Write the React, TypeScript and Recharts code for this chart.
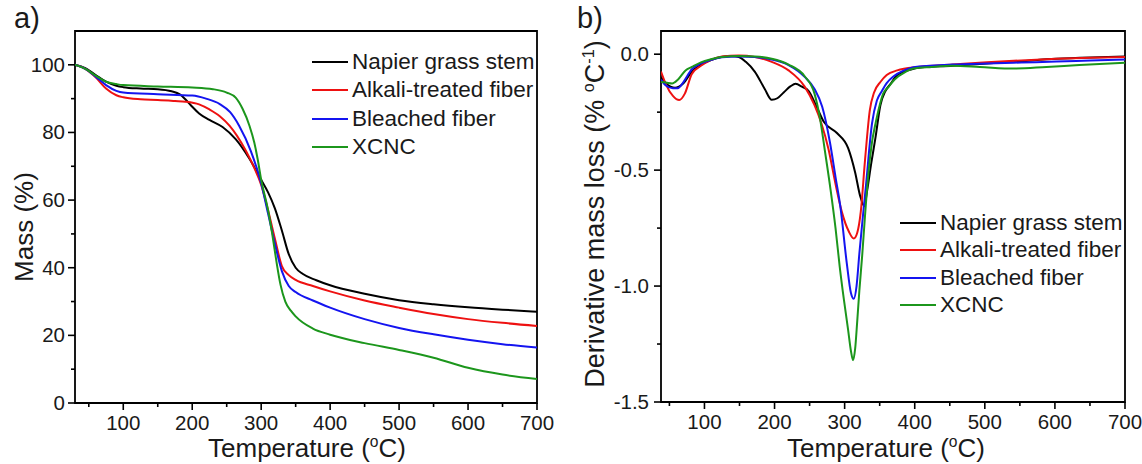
import { LineChart, Line, XAxis, YAxis, ReferenceArea } from "recharts";

const FONT = '"Liberation Sans", Arial, Helvetica, sans-serif';
const INK = "#1a1a1a";

// a) TGA: mass remaining (%) against temperature (°C)
const napierMass: [number, number][] = [
  [30, 100], [45, 99], [60, 97], [75, 95], [90, 93.8], [100, 93.4], [125, 93],
  [150, 92.8], [170, 92.2], [182, 91.3], [191, 89.6], [200, 87.6], [210, 85.6],
  [225, 83.7], [244, 81.6], [263, 78], [283, 72.2], [300, 66], [310, 62.3],
  [320, 57.5], [330, 51], [340, 44], [350, 40], [360, 38.2], [380, 36.3],
  [400, 34.8], [450, 32.3], [500, 30.4], [550, 29.2], [600, 28.3], [650, 27.6],
  [700, 27],
];
const alkaliMass: [number, number][] = [
  [30, 100], [45, 98.8], [60, 96.3], [75, 93], [90, 91], [100, 90.4], [125, 89.8],
  [150, 89.6], [175, 89.3], [190, 89.1], [210, 88.3], [225, 86.8], [240, 84.8],
  [254, 82], [265, 79], [278, 74.5], [290, 69.5], [300, 64.5], [310, 57],
  [320, 48.5], [330, 40.5], [340, 37.8], [350, 36.4], [375, 34.6], [400, 33],
  [450, 30.3], [500, 28.2], [550, 26.3], [600, 24.8], [650, 23.7], [700, 22.8],
];
const bleachedMass: [number, number][] = [
  [30, 100], [45, 98.8], [60, 96.5], [75, 94], [90, 92.3], [100, 91.8], [150, 91.3],
  [200, 90.9], [220, 90], [240, 88.4], [255, 86], [268, 82], [285, 74.5], [300, 65],
  [310, 56], [320, 47], [330, 39], [340, 34.6], [350, 32.8], [375, 30.3],
  [400, 28.2], [450, 24.8], [500, 22.2], [550, 20.3], [600, 18.7], [650, 17.4],
  [700, 16.4],
];
const xcncMass: [number, number][] = [
  [30, 100], [45, 98.8], [60, 96.8], [75, 95], [90, 94.3], [100, 94], [150, 93.6],
  [200, 93.3], [230, 92.8], [250, 91.8], [263, 90.3], [273, 87], [283, 82],
  [290, 77], [295, 72], [300, 66], [310, 57], [316, 50], [322, 42], [328, 35],
  [335, 30], [343, 27.3], [350, 25.6], [375, 22], [400, 20.2], [450, 17.7],
  [500, 15.7], [550, 13.4], [600, 10.4], [650, 8.4], [700, 7.1],
];

// b) DTG: derivative mass loss (% °C-1) against temperature (°C)
const napierDtg: [number, number][] = [
  [38, -0.1], [45, -0.125], [58, -0.145], [70, -0.125], [82, -0.075], [95, -0.045],
  [109, -0.025], [124, -0.012], [139, -0.008], [149, -0.012], [159, -0.033],
  [172, -0.076], [186, -0.15], [196, -0.197], [204, -0.19], [213, -0.165],
  [223, -0.138], [230, -0.128], [239, -0.14], [249, -0.16], [259, -0.22],
  [270, -0.29], [289, -0.34], [305, -0.405], [315, -0.51], [322, -0.61],
  [328, -0.655], [332, -0.59], [338, -0.47], [344, -0.36], [351, -0.22],
  [358, -0.16], [365, -0.13], [375, -0.09], [390, -0.07], [405, -0.058],
  [454, -0.05], [503, -0.04], [552, -0.03], [602, -0.02], [651, -0.014], [700, -0.01],
];
const alkaliDtg: [number, number][] = [
  [38, -0.075], [45, -0.13], [55, -0.18], [64, -0.198], [72, -0.17], [82, -0.085],
  [95, -0.05], [109, -0.025], [125, -0.01], [149, -0.006], [172, -0.012],
  [196, -0.033], [220, -0.07], [243, -0.14], [257, -0.22], [267, -0.3],
  [277, -0.41], [287, -0.56], [296, -0.68], [306, -0.765], [313, -0.795],
  [318, -0.77], [323, -0.68], [329, -0.46], [336, -0.24], [342, -0.165],
  [351, -0.12], [360, -0.09], [375, -0.07], [405, -0.055], [454, -0.045],
  [503, -0.035], [552, -0.027], [602, -0.02], [651, -0.015], [700, -0.012],
];
const bleachedDtg: [number, number][] = [
  [38, -0.11], [45, -0.135], [55, -0.147], [62, -0.147], [70, -0.12], [82, -0.065],
  [95, -0.04], [109, -0.025], [125, -0.013], [149, -0.01], [172, -0.012],
  [196, -0.023], [220, -0.047], [243, -0.098], [257, -0.15], [268, -0.227],
  [279, -0.38], [287, -0.53], [294, -0.66], [303, -0.9], [309, -1.03],
  [313, -1.055], [317, -1.0], [321, -0.86], [326, -0.7], [330, -0.58], [339, -0.3],
  [346, -0.2], [353, -0.16], [360, -0.125], [370, -0.095], [385, -0.07],
  [398, -0.056], [454, -0.045], [503, -0.04], [552, -0.036], [602, -0.032],
  [651, -0.027], [700, -0.023],
];
const xcncDtg: [number, number][] = [
  [38, -0.12], [45, -0.122], [54, -0.126], [62, -0.11], [73, -0.07], [82, -0.055],
  [95, -0.035], [109, -0.022], [125, -0.012], [149, -0.008], [172, -0.01],
  [196, -0.02], [220, -0.045], [243, -0.095], [257, -0.17], [265, -0.28],
  [272, -0.42], [280, -0.586], [287, -0.75], [293, -0.917], [299, -1.06],
  [305, -1.19], [309, -1.28], [312, -1.32], [315, -1.27], [318, -1.15],
  [321, -1.02], [325, -0.87], [329, -0.7], [334, -0.51], [339, -0.38], [344, -0.3],
  [350, -0.22], [355, -0.17], [363, -0.14], [371, -0.11], [387, -0.076],
  [398, -0.062], [424, -0.055], [454, -0.05], [493, -0.055], [541, -0.062],
  [588, -0.055], [635, -0.047], [700, -0.037],
];

const tempTicks = [50, 100, 150, 200, 250, 300, 350, 400, 450, 500, 550, 600, 650, 700];
const massTicks = [0, 10, 20, 30, 40, 50, 60, 70, 80, 90, 100];
const dtgTicks = [-1.5, -1.25, -1, -0.75, -0.5, -0.25, 0];

const SERIES = [
  { name: "Napier grass stem", color: "#000000", mass: napierMass, dtg: napierDtg },
  { name: "Alkali-treated fiber", color: "#ee1111", mass: alkaliMass, dtg: alkaliDtg },
  { name: "Bleached fiber", color: "#1414f0", mass: bleachedMass, dtg: bleachedDtg },
  { name: "XCNC", color: "#1c961c", mass: xcncMass, dtg: xcncDtg },
];

const toPoints = (arr: [number, number][]) => arr.map(([t, v]) => ({ t, v }));

function TempTick(props: any) {
  const { x, y, payload } = props;
  const major = payload.value % 100 === 0;
  return (
    <g>
      <line x1={x} x2={x} y1={y} y2={y + (major ? 7 : 4)} stroke="#000" strokeWidth={1.6} />
      {major && (
        <text x={x} y={y + 27} textAnchor="middle" fontSize={20.5} fill={INK} fontFamily={FONT}>
          {payload.value}
        </text>
      )}
    </g>
  );
}

function MassTick(props: any) {
  const { x, y, payload } = props;
  const major = payload.value % 20 === 0;
  return (
    <g>
      <line x1={x - (major ? 7 : 4)} x2={x} y1={y} y2={y} stroke="#000" strokeWidth={1.6} />
      {major && (
        <text x={x - 10} y={y + 7} textAnchor="end" fontSize={20.5} fill={INK} fontFamily={FONT}>
          {payload.value}
        </text>
      )}
    </g>
  );
}

function DtgTick(props: any) {
  const { x, y, payload } = props;
  const major = Math.abs(payload.value * 2 - Math.round(payload.value * 2)) < 1e-6;
  return (
    <g>
      <line x1={x - (major ? 7 : 4)} x2={x} y1={y} y2={y} stroke="#000" strokeWidth={1.6} />
      {major && (
        <text x={x - 12} y={y + 7} textAnchor="end" fontSize={20.5} fill={INK} fontFamily={FONT}>
          {payload.value.toFixed(1)}
        </text>
      )}
    </g>
  );
}

function LegendBox({ left, top, step }: { left: number; top: number; step: number }) {
  return (
    <>
      {SERIES.map((s, i) => (
        <div
          key={s.name}
          style={{
            position: "absolute",
            left,
            top: top + i * step - 12,
            height: 24,
            display: "flex",
            alignItems: "center",
            fontSize: 22.5,
            lineHeight: "24px",
            color: INK,
            whiteSpace: "nowrap",
          }}
        >
          <span style={{ display: "inline-block", width: 36, height: 2.2, background: s.color, marginRight: 4 }} />
          {s.name}
        </div>
      ))}
    </>
  );
}

const titleStyle = {
  position: "absolute" as const,
  fontSize: 26,
  lineHeight: "26px",
  color: INK,
  whiteSpace: "nowrap" as const,
};

const supStyle = { fontSize: "0.6em", lineHeight: 0 };

export default function App() {
  return (
    <div
      style={{
        position: "absolute",
        left: 0,
        top: 0,
        width: 1142,
        height: 464,
        background: "#fff",
        fontFamily: FONT,
        overflow: "hidden",
      }}
    >
      <div style={{ position: "absolute", left: 0, top: 0 }}>
        <LineChart width={560} height={464} margin={{ top: 31, right: 23, bottom: 0, left: 0 }}>
          <XAxis
            type="number"
            dataKey="t"
            domain={[30, 700]}
            ticks={tempTicks}
            interval={0}
            height={61}
            tickSize={0}
            tickMargin={0}
            axisLine={false}
            tickLine={false}
            tick={(p: any) => <TempTick {...p} />}
            allowDataOverflow
          />
          <YAxis
            type="number"
            domain={[0, 110]}
            ticks={massTicks}
            interval={0}
            width={75}
            tickSize={0}
            tickMargin={0}
            axisLine={false}
            tickLine={false}
            tick={(p: any) => <MassTick {...p} />}
            allowDataOverflow
          />
          <ReferenceArea x1={30} x2={700} y1={0} y2={110} fill="none" stroke="#000" strokeWidth={1.8} />
          {SERIES.map((s) => (
            <Line
              key={s.name}
              data={toPoints(s.mass)}
              dataKey="v"
              name={s.name}
              type="monotone"
              stroke={s.color}
              strokeWidth={2}
              dot={false}
              isAnimationActive={false}
            />
          ))}
        </LineChart>
      </div>

      <div style={{ position: "absolute", left: 560, top: 0 }}>
        <LineChart width={582} height={464} margin={{ top: 31, right: 17, bottom: 0, left: 0 }}>
          <XAxis
            type="number"
            dataKey="t"
            domain={[38, 700]}
            ticks={tempTicks}
            interval={0}
            height={62}
            tickSize={0}
            tickMargin={0}
            axisLine={false}
            tickLine={false}
            tick={(p: any) => <TempTick {...p} />}
            allowDataOverflow
          />
          <YAxis
            type="number"
            domain={[-1.5, 0.1]}
            ticks={dtgTicks}
            interval={0}
            width={101}
            tickSize={0}
            tickMargin={0}
            axisLine={false}
            tickLine={false}
            tick={(p: any) => <DtgTick {...p} />}
            allowDataOverflow
          />
          <ReferenceArea x1={38} x2={700} y1={-1.5} y2={0.1} fill="none" stroke="#000" strokeWidth={1.8} />
          {SERIES.map((s) => (
            <Line
              key={s.name}
              data={toPoints(s.dtg)}
              dataKey="v"
              name={s.name}
              type="monotone"
              stroke={s.color}
              strokeWidth={2}
              dot={false}
              isAnimationActive={false}
            />
          ))}
        </LineChart>
      </div>

      <LegendBox left={312} top={62} step={28.3} />
      <LegendBox left={900} top={223} step={27.4} />

      <div style={{ ...titleStyle, left: 14, top: 4, fontSize: 29, lineHeight: "29px" }}>a)</div>
      <div style={{ ...titleStyle, left: 577, top: 4, fontSize: 29, lineHeight: "29px" }}>b)</div>

      <div style={{ ...titleStyle, left: 307, top: 435, transform: "translateX(-50%)" }}>
        Temperature (<sup style={supStyle}>o</sup>C)
      </div>
      <div style={{ ...titleStyle, left: 886, top: 435, transform: "translateX(-50%)" }}>
        Temperature (<sup style={supStyle}>o</sup>C)
      </div>

      <div style={{ ...titleStyle, left: 24, top: 227, transform: "translate(-50%, -50%) rotate(-90deg)" }}>
        Mass (%)
      </div>
      <div
        style={{
          ...titleStyle,
          left: 595,
          top: 214,
          fontSize: 27,
          lineHeight: "27px",
          transform: "translate(-50%, -50%) rotate(-90deg)",
        }}
      >
        Derivative mass loss (% <sup style={supStyle}>o</sup>C<sup style={supStyle}>-1</sup>)
      </div>
    </div>
  );
}
